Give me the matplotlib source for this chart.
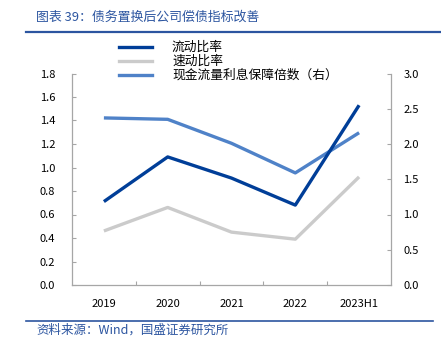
import matplotlib
matplotlib.use("Agg")
import matplotlib.pyplot as plt
from matplotlib.ticker import FixedLocator, FormatStrFormatter
from matplotlib.lines import Line2D

plt.rcParams['font.family'] = ['Noto Sans CJK SC', 'DejaVu Sans']

# data
years = ['2019', '2020', '2021', '2022', '2023H1']
current_ratio = [0.71, 1.09, 0.91, 0.68, 1.53]
quick_ratio = [0.46, 0.66, 0.45, 0.39, 0.92]
cash_interest = [2.37, 2.35, 2.01, 1.59, 2.16]

labels = ['流动比率', '速动比率', '现金流量利息保障倍数（右）']
title = '图表 39：债务置换后公司偿债指标改善'
source = '资料来源：Wind，国盛证券研究所'

c_dark = '#003e98'
c_grey = '#cbcbcb'
c_mid = '#4f82c8'
c_title = '#2c55a0'
c_spine = '#a6a6a6'

fig = plt.figure(figsize=(4.41, 3.49), dpi=100)
ax = fig.add_axes([72 / 441, 1 - 285 / 349, (391 - 72) / 441, (285 - 73.5) / 349])
ax2 = ax.twinx()

x = list(range(len(years)))
ax2.plot(x, cash_interest, color=c_mid, lw=2.4, solid_capstyle='butt', zorder=2)
ax.plot(x, quick_ratio, color=c_grey, lw=2.4, solid_capstyle='butt', zorder=2)
ax.plot(x, current_ratio, color=c_dark, lw=2.4, solid_capstyle='butt', zorder=3)
ax.set_zorder(ax2.get_zorder() + 1)
ax.patch.set_visible(False)

ax.set_xlim(-0.5, len(years) - 0.5)
ax.set_ylim(0, 1.8)
ax2.set_ylim(0, 3.0)
ax.set_yticks([i * 0.2 for i in range(10)])
ax2.set_yticks([i * 0.5 for i in range(7)])
ax.yaxis.set_major_formatter(FormatStrFormatter('%.1f'))
ax2.yaxis.set_major_formatter(FormatStrFormatter('%.1f'))

ax.set_xticks(x)
ax.set_xticklabels(years)
ax.xaxis.set_minor_locator(FixedLocator([i + 0.5 for i in range(len(years) - 1)]))
ax.tick_params(axis='x', which='major', length=0, pad=10, labelsize=8, colors='black')
ax.tick_params(axis='x', which='minor', direction='in', length=3, color=c_spine, width=0.8)
ax.tick_params(axis='y', direction='in', length=3, color=c_spine, width=0.8, pad=12, labelsize=8)
ax2.tick_params(axis='y', direction='in', length=3, color=c_spine, width=0.8, pad=9, labelsize=8)

for a in (ax, ax2):
    a.spines['top'].set_visible(False)
    for s in ('left', 'right', 'bottom'):
        a.spines[s].set_color(c_spine)
        a.spines[s].set_linewidth(0.9)
ax.spines['right'].set_visible(False)
ax2.spines['left'].set_visible(False)
ax2.spines['bottom'].set_visible(False)

handles = [Line2D([], [], color=c_dark, lw=2.4),
           Line2D([], [], color=c_grey, lw=2.4),
           Line2D([], [], color=c_mid, lw=2.4)]
fig.legend(handles, labels, loc='upper left', bbox_to_anchor=(119 / 441, 1 - 41 / 349),
           frameon=False, fontsize=9.2, handlelength=2.6, handletextpad=1.55,
           labelspacing=0.08, borderaxespad=0, borderpad=0)

fig.text(36 / 441, 1 - 17 / 349, title, fontsize=9.3, color=c_title, va='center', ha='left')
fig.add_artist(Line2D([26 / 441, 1.0], [1 - 32 / 349] * 2, color=c_title, lw=1.6))
fig.add_artist(Line2D([26 / 441, 433 / 441], [1 - 321 / 349] * 2, color=c_title, lw=1.2))
fig.text(36 / 441, 1 - 330 / 349, source, fontsize=9.0, color=c_title, va='center', ha='left')

fig.savefig('out.png', dpi=100)
